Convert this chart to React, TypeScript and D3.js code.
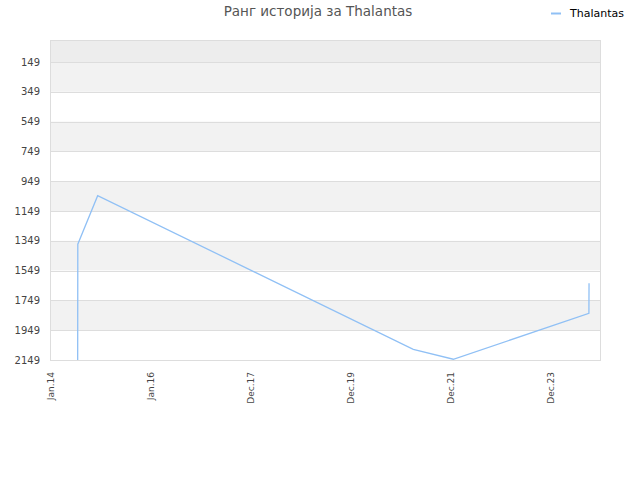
import React from "react";
import * as d3 from "d3";

const title = "Ранг историја за Thalantas";
const seriesName = "Thalantas";
const dates = [
  "2014-07-22",
  "2014-07-23",
  "2014-12-15",
  "2021-04-06",
  "2022-01-23",
  "2024-10-09",
  "2024-10-10",
];
const ranks = [2149, 1372, 1046, 2077, 2144, 1836, 1634];
const yTicks = [149, 349, 549, 749, 949, 1149, 1349, 1549, 1749, 1949, 2149];
const xStart = "2014-01-01";
const tickStepDays = 730;
const tickCount = 6;
const xDomainDays = 4015;

const W = 640;
const H = 480;
const M = { left: 50, right: 600, top: 40, bottom: 360 };

export default function App() {
  const parse = d3.utcParse("%Y-%m-%d");
  const start = parse(xStart)!;
  const end = d3.utcDay.offset(start, xDomainDays);
  const x = d3.scaleUtc().domain([start, end]).range([M.left, M.right]);
  const y = d3.scaleLinear().domain([1, 2149]).range([M.top, M.bottom]);
  const xTicks = d3.range(tickCount).map((i) => d3.utcDay.offset(start, i * tickStepDays));
  const fmt = d3.utcFormat("%b.%y");
  const pts = dates.map((d, i) => [x(parse(d)!), y(ranks[i])] as [number, number]);
  const line = d3.line()(pts) || "";

  const bounds = [1, ...yTicks];
  const bands = [] as { y0: number; y1: number; fill: string }[];
  for (let i = 0; i < bounds.length - 1; i++) {
    const fill = i === 0 ? "#ededed" : i % 2 === 1 ? "#f2f2f2" : "#ffffff";
    bands.push({ y0: y(bounds[i]), y1: y(bounds[i + 1]), fill });
  }

  return (
    <svg width={W} height={H} style={{ position: "absolute", left: 0, top: 0 }} fontFamily="'DejaVu Sans', sans-serif">
      <rect x={0} y={0} width={W} height={H} fill="#fff" />
      {bands.map((b, i) => (
        <rect key={i} x={M.left} y={b.y0} width={M.right - M.left} height={b.y1 - b.y0} fill={b.fill} />
      ))}
      {yTicks.map((t) => (
        <line key={t} x1={M.left} x2={M.right} y1={Math.round(y(t)) + 0.5} y2={Math.round(y(t)) + 0.5} stroke="#dddddd" strokeWidth={1} />
      ))}
      <rect x={M.left + 0.5} y={M.top + 0.5} width={M.right - M.left} height={M.bottom - M.top} fill="none" stroke="#dddddd" strokeWidth={1} />
      {yTicks.map((t) => (
        <text key={t} x={40} y={y(t)} dy="0.35em" textAnchor="end" fontSize={10} fill="#444">
          {t}
        </text>
      ))}
      {xTicks.map((t, i) => (
        <text
          key={i}
          transform={`translate(${x(t) + 4},${372}) rotate(-90)`}
          textAnchor="end"
          fontSize={9}
          fill="#444"
        >
          {fmt(t)}
        </text>
      ))}
      <path d={line} fill="none" stroke="#90c0f5" strokeWidth={1.3} />
      <text x={318} y={16} textAnchor="middle" fontSize={13.5} fill="#555">
        {title}
      </text>
      <line x1={551} x2={561} y1={13.5} y2={13.5} stroke="#90c0f5" strokeWidth={2} />
      <text x={570} y={17} fontSize={11} fill="#000">
        {seriesName}
      </text>
    </svg>
  );
}
